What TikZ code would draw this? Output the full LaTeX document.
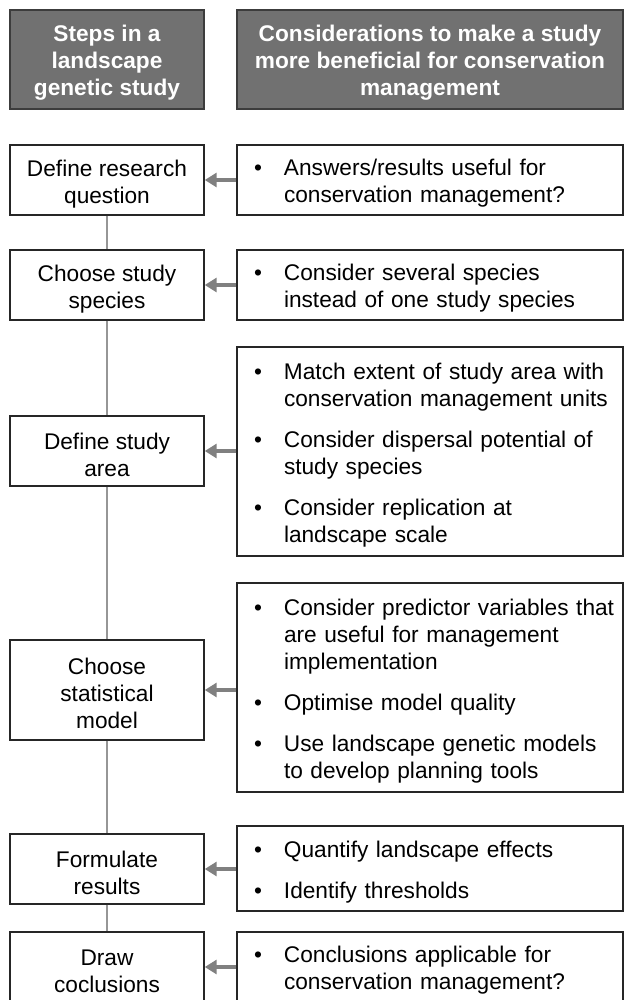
\documentclass[tikz,border=0pt]{standalone}
\usepackage{fontspec}
\setmainfont{Liberation Sans}
\usetikzlibrary{arrows.meta}

\definecolor{headfill}{RGB}{113,113,113}
\definecolor{headline}{RGB}{60,60,60}
\definecolor{boxline}{RGB}{38,38,38}
\definecolor{arrowgray}{RGB}{128,128,128}
\definecolor{linkgray}{RGB}{150,150,150}

\newcommand{\bul}{\textbullet}
% extra room above the first line, so the text sits a little lower
\newcommand{\topgap}{\rule{0pt}{17.8pt}}
\newcommand{\rowgap}{\rule{0pt}{20pt}}

\begin{document}
\begin{tikzpicture}[
    x=0.75pt, y=-0.75pt,
    font=\fontsize{17}{20.25}\selectfont,
    headbox/.style={
        draw=headline,
        fill=headfill,
        text=white,
        font=\fontsize{17}{20.25}\selectfont\bfseries,
        line width=1.1pt,
        align=center,
        minimum height=74.25pt,
        inner sep=2pt
    },
    stepbox/.style={
        draw=boxline,
        line width=1.1pt,
        align=center,
        minimum width=145.5pt,
        inner sep=2pt
    },
    notebox/.style={
        draw=boxline,
        line width=1.1pt,
        text width=264pt,
        inner xsep=12.75pt,
        inner ysep=2pt,
        align=left
    },
    feed/.style={
        draw=arrowgray,
        line width=2.4pt,
        -{Triangle[length=9pt,width=10.5pt]}
    },
    link/.style={
        draw=linkgray,
        line width=1.1pt
    }
]
\useasboundingbox (0,0) rectangle (624,1000);
\clip (0,0) rectangle (624,1000);

% Headers
\node[headbox, minimum width=145.5pt] (hsteps) at (107,59.5)
    {\topgap Steps in a\\landscape\\genetic study};
\node[headbox, minimum width=289.5pt] (hcons) at (430,59.5)
    {\topgap Considerations to make a study\\more beneficial for conservation\\management};

% ============ STEPS ============
\node[stepbox, minimum height=52.5pt] (s1) at (107,180) {\topgap Define research\\question};
\node[stepbox, minimum height=52.5pt] (s2) at (107,285) {\topgap Choose study\\species};
\node[stepbox, minimum height=52.5pt] (s3) at (107,451) {\topgap Define study\\area};
\node[stepbox, minimum height=75pt] (s4) at (107,690) {\topgap Choose\\statistical\\model};
\node[stepbox, minimum height=52.5pt] (s5) at (107,869) {\topgap Formulate\\results};
\node[stepbox, minimum height=52.5pt] (s6) at (107,967) {\topgap Draw\\coclusions};

% Step links
\draw[link] (s1) -- (s2);
\draw[link] (s2) -- (s3);
\draw[link] (s3) -- (s4);
\draw[link] (s4) -- (s5);
\draw[link] (s5) -- (s6);

% ============ CONSIDERATIONS ============
\node[notebox, minimum height=52.5pt] (r1) at (430,180) {%
    \begin{tabular}{@{}p{22.5pt}@{}l@{}}
    \rowgap\bul & Answers/results useful for\\
         & conservation management?
    \end{tabular}};
\node[notebox, minimum height=52.5pt] (r2) at (430,285) {%
    \begin{tabular}{@{}p{22.5pt}@{}l@{}}
    \rowgap\bul & Consider several species\\
         & instead of one study species
    \end{tabular}};
\node[notebox, minimum height=156.75pt] (r3) at (430,451.5) {%
    \begin{tabular}{@{}p{22.5pt}@{}l@{}}
    \rowgap\bul & Match extent of study area with\\
         & conservation management units\\[10.5pt]
    \bul & Consider dispersal potential of\\
         & study species\\[10.5pt]
    \bul & Consider replication at\\
         & landscape scale
    \end{tabular}};
\node[notebox, minimum height=156.75pt] (r4) at (430,687.5) {%
    \begin{tabular}{@{}p{22.5pt}@{}l@{}}
    \rowgap\bul & Consider predictor variables that\\
         & are useful for management\\
         & implementation\\[10.5pt]
    \bul & Optimise model quality\\[10.5pt]
    \bul & Use landscape genetic models\\
         & to develop planning tools
    \end{tabular}};
\node[notebox, minimum height=63.75pt] (r5) at (430,868.5) {%
    \begin{tabular}{@{}p{22.5pt}@{}l@{}}
    \rowgap\bul & Quantify landscape effects\\[10.5pt]
    \bul & Identify thresholds
    \end{tabular}};
\node[notebox, minimum height=52.5pt] (r6) at (430,967) {%
    \begin{tabular}{@{}p{22.5pt}@{}l@{}}
    \rowgap\bul & Conclusions applicable for\\
         & conservation management?
    \end{tabular}};

% Arrows into the steps
\foreach \i in {1,...,6} {
    \draw[feed] (r\i.west |- s\i.east) -- (s\i.east);
}

\end{tikzpicture}
\end{document}
